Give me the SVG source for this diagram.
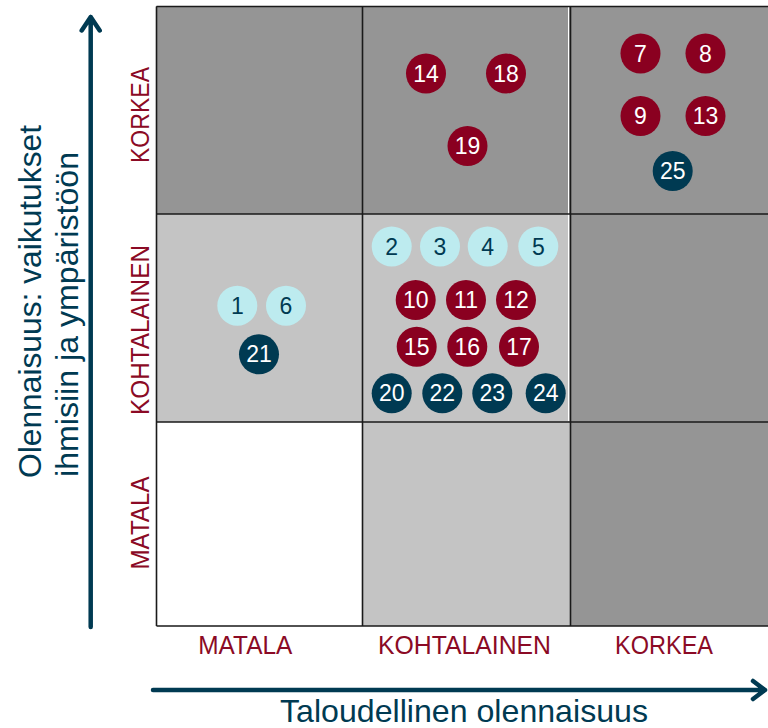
<svg xmlns="http://www.w3.org/2000/svg" width="768" height="728" viewBox="0 0 768 728">
<style>
.lbl{font-family:"Liberation Sans",Arial,sans-serif;font-size:26px;fill:#8B0A25;text-anchor:middle}
.ax{font-family:"Liberation Sans",Arial,sans-serif;font-size:32px;fill:#003A52}
.num{font-family:"Liberation Sans",Arial,sans-serif;font-size:23px;text-anchor:middle}
.red circle{fill:#8A0020}.red text{fill:#fff}
.navy circle{fill:#003A52}.navy text{fill:#fff}
.lb circle{fill:#BDEBEF}.lb text{fill:#003A52}
.axis{stroke:#003A52;stroke-width:4.5;fill:none;stroke-linecap:round;stroke-linejoin:round}
.grid{stroke:#1a1a1a;stroke-width:1.6;fill:none}
</style>
<rect width="768" height="728" fill="#fff"/>
<g id="matrix">
<rect x="156" y="6" width="612" height="208" fill="#959595"/>
<rect x="156" y="214" width="414" height="208" fill="#C4C4C4"/>
<rect x="570" y="214" width="198" height="208" fill="#959595"/>
<rect x="156" y="422" width="206" height="204" fill="#fff"/>
<rect x="362" y="422" width="208" height="204" fill="#C4C4C4"/>
<rect x="570" y="422" width="198" height="204" fill="#959595"/>
<line x1="568.5" y1="7" x2="568.5" y2="421" stroke="#fff" stroke-width="1"/>
<path class="grid" d="M156.5 6.5H768M156.5 214H768M156.5 422H768M156.5 626H768M156.5 6.5V626M362.5 6.5V626M570.5 6.5V626"/>
</g>
<g id="row-labels">
<text class="lbl" transform="translate(148.5,115) rotate(-90)" textLength="96" lengthAdjust="spacingAndGlyphs">KORKEA</text>
<text class="lbl" transform="translate(148.5,330) rotate(-90)" textLength="170" lengthAdjust="spacingAndGlyphs">KOHTALAINEN</text>
<text class="lbl" transform="translate(148.5,523) rotate(-90)" textLength="93" lengthAdjust="spacingAndGlyphs">MATALA</text>
</g>
<g id="col-labels">
<text class="lbl" x="245.3" y="654" textLength="94" lengthAdjust="spacingAndGlyphs">MATALA</text>
<text class="lbl" x="464.5" y="654" textLength="173" lengthAdjust="spacingAndGlyphs">KOHTALAINEN</text>
<text class="lbl" x="664" y="654" textLength="98" lengthAdjust="spacingAndGlyphs">KORKEA</text>
</g>
<g id="connectors">
<path class="axis" d="M90.7 627V17M81.7 30.5L90.7 17L99.7 30.5"/>
<path class="axis" d="M153 690H765M753 681L765 690L753 699"/>
</g>
<g id="axis-titles">
<text class="ax" transform="translate(41,478) rotate(-90)" textLength="353" lengthAdjust="spacingAndGlyphs">Olennaisuus: vaikutukset</text>
<text class="ax" transform="translate(78,477) rotate(-90)" textLength="325" lengthAdjust="spacingAndGlyphs">ihmisiin ja ympäristöön</text>
<text class="ax" x="464" y="722" text-anchor="middle" textLength="368" lengthAdjust="spacingAndGlyphs">Taloudellinen olennaisuus</text>
</g>
<g id="n14" class="red num"><circle cx="426" cy="73.5" r="20"/><text x="426" y="81.5">14</text></g>
<g id="n18" class="red num"><circle cx="506" cy="73.5" r="20"/><text x="506" y="81.5">18</text></g>
<g id="n19" class="red num"><circle cx="467.5" cy="146" r="20"/><text x="467.5" y="154">19</text></g>
<g id="n7" class="red num"><circle cx="640.5" cy="53.5" r="20"/><text x="640.5" y="61.5">7</text></g>
<g id="n8" class="red num"><circle cx="705.5" cy="53.5" r="20"/><text x="705.5" y="61.5">8</text></g>
<g id="n9" class="red num"><circle cx="640.5" cy="116" r="20"/><text x="640.5" y="124">9</text></g>
<g id="n13" class="red num"><circle cx="705.5" cy="116" r="20"/><text x="705.5" y="124">13</text></g>
<g id="n25" class="navy num"><circle cx="672.7" cy="171" r="20"/><text x="672.7" y="179">25</text></g>
<g id="n2" class="lb num"><circle cx="391.7" cy="246.5" r="20"/><text x="391.7" y="254.5">2</text></g>
<g id="n3" class="lb num"><circle cx="440" cy="246.5" r="20"/><text x="440" y="254.5">3</text></g>
<g id="n4" class="lb num"><circle cx="487.7" cy="246.5" r="20"/><text x="487.7" y="254.5">4</text></g>
<g id="n5" class="lb num"><circle cx="538.3" cy="246.5" r="20"/><text x="538.3" y="254.5">5</text></g>
<g id="n10" class="red num"><circle cx="415.7" cy="300" r="20"/><text x="415.7" y="308">10</text></g>
<g id="n11" class="red num"><circle cx="466" cy="300" r="20"/><text x="466" y="308">11</text></g>
<g id="n12" class="red num"><circle cx="516" cy="300" r="20"/><text x="516" y="308">12</text></g>
<g id="n15" class="red num"><circle cx="416.7" cy="346.7" r="20"/><text x="416.7" y="354.7">15</text></g>
<g id="n16" class="red num"><circle cx="467.3" cy="346.7" r="20"/><text x="467.3" y="354.7">16</text></g>
<g id="n17" class="red num"><circle cx="519" cy="346.7" r="20"/><text x="519" y="354.7">17</text></g>
<g id="n20" class="navy num"><circle cx="391.7" cy="393.3" r="20"/><text x="391.7" y="401.3">20</text></g>
<g id="n22" class="navy num"><circle cx="442.3" cy="393.3" r="20"/><text x="442.3" y="401.3">22</text></g>
<g id="n23" class="navy num"><circle cx="492.3" cy="393.3" r="20"/><text x="492.3" y="401.3">23</text></g>
<g id="n24" class="navy num"><circle cx="545.7" cy="393.3" r="20"/><text x="545.7" y="401.3">24</text></g>
<g id="n1" class="lb num"><circle cx="237.3" cy="305.7" r="20"/><text x="237.3" y="313.7">1</text></g>
<g id="n6" class="lb num"><circle cx="286" cy="305.7" r="20"/><text x="286" y="313.7">6</text></g>
<g id="n21" class="navy num"><circle cx="259" cy="354.3" r="20"/><text x="259" y="362.3">21</text></g>
</svg>
